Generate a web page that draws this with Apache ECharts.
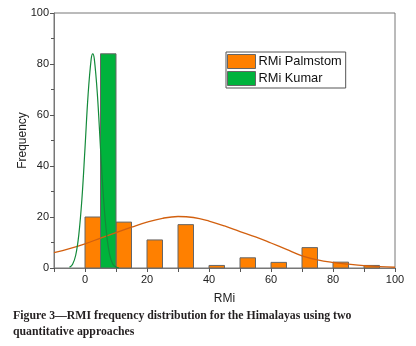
<!DOCTYPE html>
<html>
<head>
<meta charset="utf-8">
<script src="https://cdn.jsdelivr.net/npm/echarts@6/dist/echarts.min.js"></script>
<style>
  html, body { margin: 0; padding: 0; background: #fff; }
  #chart { width: 416px; height: 346px; }
</style>
</head>
<body>
<div id="chart"></div>
<script>
// histogram bins (left edge of each bar, RMi) and counts
const binWidth = 5;
const palmBins = [0, 10, 20, 30, 40, 50, 60, 70, 80, 90];
const palmFreq = [20, 18, 11, 17, 1, 4, 2.2, 8, 2.3, 1];
const kumarBins = [5];
const kumarFreq = [84];

// fitted curves
const palmCurveX = [-10, -5, 0, 5, 10, 15, 20, 25, 30, 35, 40, 45, 50, 55, 60, 65, 70, 75, 80, 85, 90, 95, 100];
const palmCurveY = [6, 7.6, 9.5, 11.7, 13.9, 16, 18, 19.5, 20.2, 19.8, 18.4, 16.5, 14.3, 12.2, 9.8, 7.3, 4.8, 3.2, 2.2, 1.5, 0.9, 0.5, 0.3];
const kumarCurveX = [-5, -4, -3, -2, -1, 0, 1, 2, 2.5, 3, 4, 5, 6, 7, 8, 9, 10, 11];
const kumarCurveY = [0.3, 1.5, 5, 13, 27, 47, 68, 82, 84, 82, 68, 47, 27, 13, 5, 1.5, 0.4, 0];

const xTicks = [0, 20, 40, 60, 80, 100];

const chart = echarts.init(document.getElementById("chart"));

const barItem = (fill) => (params, api) => {
  const x0 = api.value(0);
  const top = api.coord([x0, api.value(1)]);
  const bottom = api.coord([x0 + binWidth, 0]);
  return {
    type: "rect",
    shape: {x: top[0], y: top[1], width: bottom[0] - top[0], height: bottom[1] - top[1]},
    style: {fill: fill, stroke: "#666", lineWidth: 1},
  };
};

const pairs = (xs, ys) => xs.map((x, i) => [x, ys[i]]);

const option = {
  animation: false,
  backgroundColor: "#fff",
  textStyle: {fontFamily: "Liberation Sans, Arial, sans-serif"},
  grid: {left: 54, right: 21, top: 13, bottom: 78, show: true, borderColor: "#777", borderWidth: 1},
  legend: {
    orient: "vertical",
    left: 226,
    top: 52,
    padding: [2, 4, 2, 1],
    itemGap: 2,
    itemWidth: 28,
    itemHeight: 14,
    borderColor: "#555",
    borderWidth: 1,
    textStyle: {fontSize: 12.8, color: "#111", padding: [0, 0, 0, -2]},
    data: [
      {name: "RMi Palmstom", icon: "rect", itemStyle: {color: "#ff8000", borderColor: "#666", borderWidth: 1}},
      {name: "RMi Kumar", icon: "rect", itemStyle: {color: "#00b33c", borderColor: "#666", borderWidth: 1}},
    ],
  },
  xAxis: {
    type: "value",
    min: -10,
    max: 100,
    interval: 10,
    name: "RMi",
    nameLocation: "middle",
    nameGap: 25,
    nameTextStyle: {fontSize: 12, color: "#222"},
    axisLine: {onZero: false, lineStyle: {color: "#777"}},
    axisTick: {length: 4, inside: false, lineStyle: {color: "#555"}},
    axisLabel: {
      fontSize: 11,
      color: "#222",
      margin: 6,
      formatter: (v) => (xTicks.includes(v) ? String(v) : ""),
    },
    splitLine: {show: false},
  },
  yAxis: {
    type: "value",
    min: 0,
    max: 100,
    interval: 20,
    name: "Frequency",
    nameLocation: "middle",
    nameGap: 25,
    nameMoveOverlap: false,
    nameTextStyle: {fontSize: 12, color: "#222"},
    axisLine: {show: true, onZero: false, lineStyle: {color: "#777"}},
    axisTick: {show: true, length: 4, lineStyle: {color: "#555"}},
    minorTick: {show: true, splitNumber: 2, length: 3, lineStyle: {color: "#555"}},
    axisLabel: {fontSize: 11, color: "#222", margin: 5},
    splitLine: {show: false},
  },
  series: [
    {
      name: "RMi Palmstom",
      type: "custom",
      renderItem: barItem("#ff8000"),
      itemStyle: {color: "#ff8000"},
      encode: {x: 0, y: 1},
      data: pairs(palmBins, palmFreq),
      z: 2,
    },
    {
      name: "RMi Kumar",
      type: "custom",
      renderItem: barItem("#00b33c"),
      itemStyle: {color: "#00b33c"},
      encode: {x: 0, y: 1},
      data: pairs(kumarBins, kumarFreq),
      z: 2,
    },
    {
      name: "Palmstom fit",
      type: "line",
      smooth: 0.4,
      showSymbol: false,
      lineStyle: {color: "#d2600f", width: 1.3},
      data: pairs(palmCurveX, palmCurveY),
      z: 3,
    },
    {
      name: "Kumar fit",
      type: "line",
      smooth: 0.4,
      showSymbol: false,
      lineStyle: {color: "#138a3a", width: 1.2},
      data: pairs(kumarCurveX, kumarCurveY),
      z: 4,
    },
  ],
  graphic: [
    {
      type: "text",
      left: 13,
      top: 308,
      style: {
        text: "Figure 3\u2014RMI frequency distribution for the Himalayas using two\nquantitative approaches",
        font: "bold 11.8px 'Liberation Serif', 'DejaVu Serif', serif",
        fill: "#231f20",
        lineHeight: 16,
      },
    },
  ],
};

chart.setOption(option);
</script>
</body>
</html>
